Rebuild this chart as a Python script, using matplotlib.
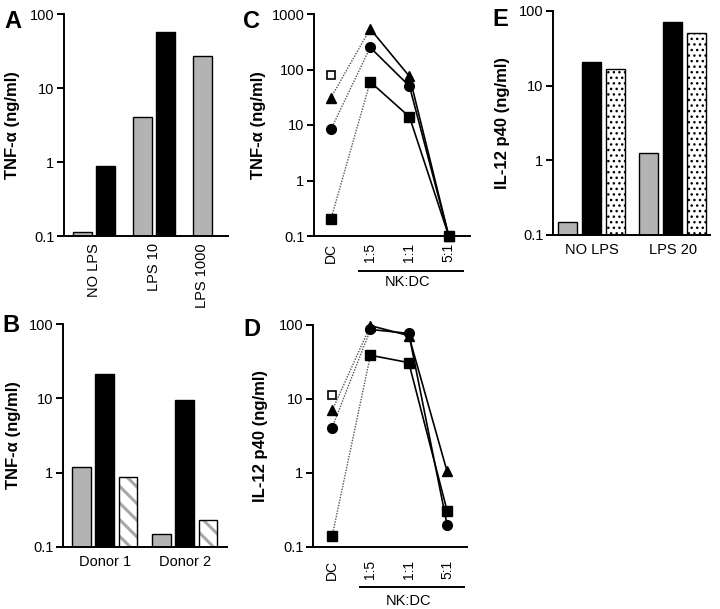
import numpy as np
import matplotlib.pyplot as plt
from matplotlib.ticker import NullLocator, FixedLocator

plt.rcParams['font.family'] = ['Liberation Sans', 'DejaVu Sans']

GRAY = '#b3b3b3'

# panel A
a_groups = ['NO LPS', 'LPS 10', 'LPS 1000']
a_gray = [0.115, 4.1, 27]
a_black = [0.87, 57, np.nan]

# panel B
b_groups = ['Donor 1', 'Donor 2']
b_gray = [1.2, 0.15]
b_black = [21, 9.5]
b_hatch = [0.88, 0.23]

# panel C / D
ratios = ['DC', '1:5', '1:1', '5:1']
c_open = 80
c_tri = [31, 540, 75, 0.1]
c_circ = [8.3, 250, 50, 0.1]
c_sq = [0.2, 60, 14, 0.1]
d_open = 11.5
d_tri = [7, 98, 72, 1.05]
d_circ = [4.1, 87, 77, 0.2]
d_sq = [0.14, 39, 31, 0.31]

# panel E
e_groups = ['NO LPS', 'LPS 20']
e_gray = [0.15, 1.27]
e_black = [21, 72]
e_dot = [16.5, 50]

W, H = 720, 609
fig = plt.figure(figsize=(7.2, 6.09), dpi=100)


def box(l, r, t, b):
    return [l / W, 1 - b / H, (r - l) / W, (b - t) / H]


def style(ax, ylo, yhi, ylabel, lx):
    ax.set_yscale('log')
    ax.set_ylim(ylo, yhi)
    for s in ['top', 'right']:
        ax.spines[s].set_visible(False)
    for s in ['left', 'bottom']:
        ax.spines[s].set_linewidth(1.4)
    ticks = [10.0 ** k for k in range(int(round(np.log10(ylo))), int(round(np.log10(yhi))) + 1)]
    ax.yaxis.set_major_locator(FixedLocator(ticks))
    ax.yaxis.set_minor_locator(NullLocator())
    ax.set_yticklabels(['%g' % t for t in ticks])
    ax.tick_params(axis='y', length=5, width=1.4, labelsize=10.5, pad=2)
    ax.tick_params(axis='x', length=0, labelsize=10.5)
    ax.text(lx, 0.5, ylabel, transform=ax.transAxes, rotation=90,
            ha='center', va='center', fontsize=12, fontweight='bold')


def letter(x, y, s):
    fig.text(x / W, 1 - y / H, s, fontsize=17, fontweight='bold', ha='left', va='top')


# ---- A
ax = fig.add_axes(box(64, 228, 14, 236))
x = np.arange(len(a_groups))
off = 0.195
bw = 0.32
labpos = []
for i in range(len(a_groups)):
    ax.bar(x[i] - off, a_gray[i], bw, color=GRAY, edgecolor='black', linewidth=1)
    if np.isfinite(a_black[i]):
        ax.bar(x[i] + off, a_black[i], bw, color='black', edgecolor='black', linewidth=1)
        labpos.append(x[i])
    else:
        labpos.append(x[i] - off)
ax.set_xlim(-0.5, 2.23)
style(ax, 0.1, 100, 'TNF-α (ng/ml)', (12.5 - 64) / 164)
ax.set_xticks(labpos)
ax.set_xticklabels(a_groups, rotation=90, va='top')
ax.tick_params(axis='x', pad=5)
letter(4, 10, 'A')

# ---- B
ax = fig.add_axes(box(63, 227, 324, 547))
x = np.arange(len(b_groups))
off = 0.29
bw = 0.23
ax.bar(x - off, b_gray, bw, color=GRAY, edgecolor='black', linewidth=1)
ax.bar(x, b_black, bw, color='black', edgecolor='black', linewidth=1)
plt.rcParams['hatch.linewidth'] = 2.2
ax.bar(x + off, b_hatch, bw, color='white', edgecolor='#a8a8a8', hatch='\\\\', linewidth=0)
ax.bar(x + off, b_hatch, bw, fill=False, edgecolor='black', linewidth=1)
ax.set_xlim(-0.52, 1.53)
style(ax, 0.1, 100, 'TNF-α (ng/ml)', (14 - 63) / 164)
ax.set_xticks(x)
ax.set_xticklabels(b_groups)
ax.tick_params(axis='x', pad=6)
letter(2, 314, 'B')


# ---- C / D
def lines(ax, open_v, tri, circ, sq):
    xs = np.arange(len(ratios))
    for vals, m, ms in [(tri, '^', 7.5), (circ, 'o', 7), (sq, 's', 6.5)]:
        ax.plot(xs[:2], vals[:2], ls=(0, (1, 1)), color='#555555', lw=1, zorder=2)
        ax.plot(xs[1:], vals[1:], ls='-', color='black', lw=1.2, zorder=2)
        ax.plot(xs, vals, ls='none', marker=m, ms=ms, color='black', zorder=3, clip_on=False)
    ax.plot([0], [open_v], ls='none', marker='s', ms=6, mfc='white', mec='black', mew=1.2)
    ax.set_xticks(xs)
    ax.set_xticklabels(ratios, rotation=90, va='top', fontsize=10)


ax = fig.add_axes(box(314, 470, 14, 236))
lines(ax, c_open, c_tri, c_circ, c_sq)
ax.set_xlim(-0.43, 3.54)
style(ax, 0.1, 1000, 'TNF-α (ng/ml)', (258 - 314) / 156)
ax.tick_params(axis='x', pad=5, labelsize=10)
tr = ax.get_xaxis_transform()
ax.plot([0.71, 3.36], [-0.158, -0.158], color='black', lw=1.4, transform=tr, clip_on=False)
ax.text(1.95, -0.207, 'NK:DC', transform=tr, ha='center', va='center', fontsize=10.5)
letter(243, 10, 'C')

ax = fig.add_axes(box(313, 467, 325, 547))
lines(ax, d_open, d_tri, d_circ, d_sq)
ax.set_xlim(-0.5, 3.52)
style(ax, 0.1, 100, 'IL-12 p40 (ng/ml)', (261 - 313) / 154)
ax.tick_params(axis='x', pad=9.5, labelsize=10)
tr = ax.get_xaxis_transform()
ax.plot([0.73, 3.45], [-0.18, -0.18], color='black', lw=1.4, transform=tr, clip_on=False)
ax.text(1.98, -0.244, 'NK:DC', transform=tr, ha='center', va='center', fontsize=10.5)
letter(243, 318, 'D')

# ---- E
ax = fig.add_axes(box(553, 710, 11, 235))
x = np.arange(len(e_groups))
off = 0.296
bw = 0.235
ax.bar(x - off, e_gray, bw, color=GRAY, edgecolor='black', linewidth=1)
ax.bar(x, e_black, bw, color='black', edgecolor='black', linewidth=1)
plt.rcParams['hatch.linewidth'] = 1.0
ax.bar(x + off, e_dot, bw, color='white', edgecolor='black', hatch='...', linewidth=0)
ax.bar(x + off, e_dot, bw, fill=False, edgecolor='black', linewidth=1)
ax.set_xlim(-0.475, 1.46)
style(ax, 0.1, 100, 'IL-12 p40 (ng/ml)', (502 - 553) / 157)
ax.set_xticks(x)
ax.set_xticklabels(e_groups)
ax.tick_params(axis='x', pad=6)
letter(492, 8, 'E')

fig.savefig('out.png', dpi=100)
